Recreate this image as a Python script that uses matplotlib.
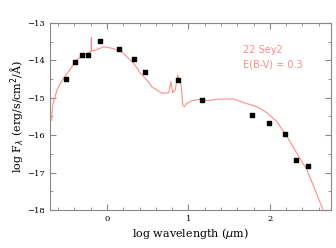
import numpy as np
import matplotlib.pyplot as plt

# photometric points
obs_x = [-0.51, -0.39, -0.31, -0.23, -0.09, 0.15, 0.335, 0.465, 0.875, 1.17, 1.78, 1.99, 2.18, 2.32, 2.47]
obs_y = [-14.51, -14.05, -13.86, -13.87, -13.48, -13.69, -13.97, -14.32, -14.53, -15.05, -15.47, -15.67, -15.96, -16.66, -16.82]

# template spectrum (reddened)
mod_x = [-0.68, -0.675, -0.667, -0.614, -0.55, -0.49, -0.43, -0.37, -0.307, -0.245, -0.195,
         -0.193, -0.191, -0.144, -0.04, 0.06, 0.18, 0.245, 0.327, 0.41, 0.49, 0.55, 0.61,
         0.675, 0.756, 0.785, 0.805, 0.838, 0.867, 0.89, 0.91, 0.93, 0.95, 0.98, 1.04,
         1.145, 1.227, 1.35, 1.553, 1.677, 1.84, 1.963, 2.086, 2.21, 2.33, 2.455, 2.555, 2.65]
mod_y = [-15.6, -15.4, -15.19, -14.79, -14.53, -14.35, -14.17, -13.99, -13.89, -13.82, -13.75,
         -13.39, -13.75, -13.73, -13.64, -13.68, -13.77, -13.91, -14.08, -14.35, -14.53, -14.71, -14.79,
         -14.88, -14.87, -14.57, -14.87, -14.79, -14.39, -14.53, -14.66, -15.19, -15.24, -15.15, -15.08,
         -15.04, -15.08, -15.04, -15.03, -15.13, -15.24, -15.4, -15.64, -16.04, -16.48, -16.93, -17.46, -17.98]

fig = plt.figure(figsize=(3.36, 2.48), dpi=100, facecolor="w")
ax = fig.add_axes([0.149, 0.153, 0.836, 0.755])

ax.plot(mod_x, mod_y, color="#ff8c8c", linewidth=0.8)
ax.scatter(obs_x, obs_y, marker="s", s=5, color="k", zorder=3)

ax.set_xlim(-0.7, 2.75)
ax.set_ylim(-18, -13)
ax.set_xticks([0, 1, 2])
ax.set_xticks(np.arange(-0.6, 2.75, 0.2), minor=True)
ax.set_yticks([-18, -17, -16, -15, -14, -13])
ax.set_yticks(np.arange(-17.5, -13, 1.0), minor=True)
ax.tick_params(which="both", direction="in", top=True, right=True, color="#888888", labelsize=6)
ax.tick_params(which="major", length=4)
ax.tick_params(which="minor", length=2)
for s in ax.spines.values():
    s.set_color("#888888")
for lab in ax.get_xticklabels() + ax.get_yticklabels():
    lab.set_family("DejaVu Serif")

ax.set_xlabel(r"log wavelength ($\mu$m)", family="DejaVu Serif", fontsize=8, labelpad=2)
ax.set_ylabel(r"log F$_\lambda$ (erg/s/cm$^2$/Å)", family="DejaVu Serif", fontsize=8, labelpad=1)

ax.text(0.687, 0.84, "22 Sey2", transform=ax.transAxes, color="#ff8c8c", fontsize=7)
ax.text(0.687, 0.76, "E(B-V) = 0.3", transform=ax.transAxes, color="#ff8c8c", fontsize=7)

plt.savefig("out.png", dpi=100)
